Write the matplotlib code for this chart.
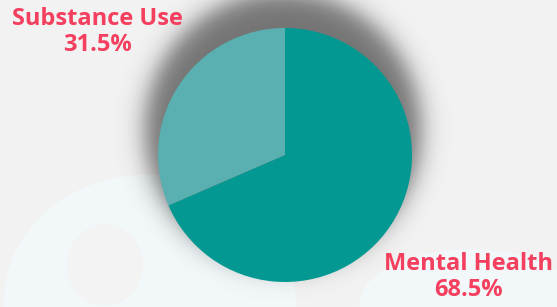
import numpy as np
import matplotlib
matplotlib.use("Agg")
import matplotlib.pyplot as plt
from matplotlib.patches import Ellipse

categories = ["Mental Health", "Substance Use"]
values = [68.5, 31.5]
colors = ["#039891", "#5aafb0"]
label_color = "#f43f5e"

W, H = 557, 307
fig = plt.figure(figsize=(W / 100, H / 100), dpi=100)
fig.patch.set_facecolor("#f2f2f2")
ax = fig.add_axes([0, 0, 1, 1])

# faint background shapes
ax.add_patch(Ellipse((150, 300), 290, 250, color="#f2f8fa", zorder=0))
ax.add_patch(Ellipse((105, 265), 75, 80, color="#f3f3f3", zorder=0.1))
ax.add_patch(Ellipse((470, 305), 220, 110, color="#f2f8fa", zorder=0))

# blurred shadow
yy, xx = np.mgrid[0:H, 0:W] + 0.5
cx, cy, R = 283, 130, 138
d = np.hypot(xx - cx, yy - cy)
a = 0.5 * (1 - np.tanh((d - R) / 14.0)) * 0.52
img = np.zeros((H, W, 4))
img[..., 3] = a
ax.imshow(img, extent=(0, W, H, 0), zorder=1, interpolation="bilinear")

center = (285, 155)
radius = 127
ax.pie(values, colors=colors, startangle=-90, counterclock=True,
       center=center, radius=radius, frame=True,
       wedgeprops=dict(linewidth=0, zorder=2))
ax.set_xlim(0, W)
ax.set_ylim(H, 0)
ax.set_aspect("equal")
ax.axis("off")

fp = dict(family=["Open Sans", "DejaVu Sans"], fontweight="bold", fontsize=17,
          color=label_color, ha="center", va="center", zorder=5,
          linespacing=1.15)
ax.text(97, 32, f"{categories[1]}\n{values[1]}%", **fp)
ax.text(468, 277, f"{categories[0]}\n{values[0]}%", **fp)

fig.savefig("out.png", dpi=100, facecolor=fig.get_facecolor())
